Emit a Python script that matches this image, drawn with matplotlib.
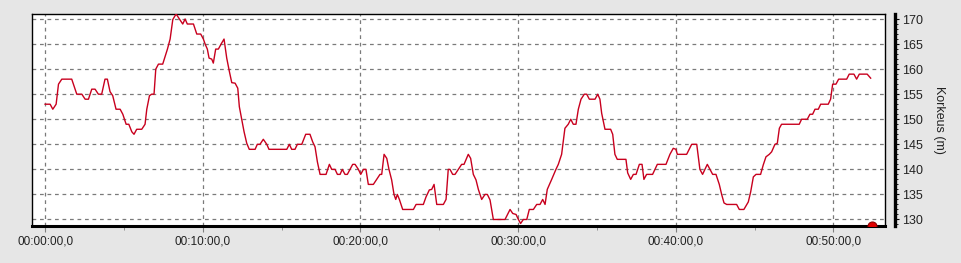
import matplotlib
matplotlib.use("Agg")
import matplotlib.pyplot as plt
from matplotlib.ticker import FuncFormatter, MultipleLocator, FixedLocator

plt.rcParams["font.family"] = ["Liberation Sans", "DejaVu Sans"]

# time in minutes, elevation in metres
time_min = [0.00, 0.32, 0.49, 0.70, 0.85, 1.06, 1.69, 1.90, 2.01, 2.33, 2.54, 2.75, 2.96, 3.17, 3.38, 3.59,
            3.80, 3.95, 4.12, 4.29, 4.50, 4.76, 4.93, 5.14, 5.31, 5.50, 5.64, 5.81, 6.13, 6.34, 6.45, 6.62,
            6.76, 6.91, 7.02, 7.19, 7.46, 7.61, 7.76, 7.93, 8.10, 8.31, 8.52, 8.73, 8.88, 9.02, 9.41, 9.62,
            9.87, 10.04, 10.15, 10.29, 10.40, 10.57, 10.67, 10.82, 10.99, 11.20, 11.35, 11.52, 11.69, 11.84,
            12.05, 12.22, 12.32, 12.47, 12.62, 12.79, 12.95, 13.32, 13.46, 13.63, 13.84, 14.06, 14.20, 15.33,
            15.49, 15.64, 15.85, 16.00, 16.28, 16.53, 16.80, 16.97, 17.12, 17.27, 17.44, 17.82, 18.03, 18.18,
            18.39, 18.54, 18.71, 18.85, 19.02, 19.17, 19.34, 19.51, 19.66, 19.87, 20.02, 20.19, 20.35, 20.50,
            20.82, 21.03, 21.24, 21.35, 21.50, 21.67, 21.81, 21.98, 22.13, 22.24, 22.34, 22.47, 22.68, 23.36,
            23.53, 23.99, 24.16, 24.37, 24.52, 24.67, 24.84, 25.26, 25.43, 25.57, 25.68, 25.85, 26.00, 26.21,
            26.42, 26.57, 26.84, 26.99, 27.16, 27.33, 27.48, 27.69, 27.90, 28.05, 28.22, 28.43, 29.17, 29.49,
            29.66, 29.87, 30.02, 30.16, 30.33, 30.55, 30.71, 30.97, 31.18, 31.39, 31.56, 31.71, 31.85, 32.13,
            32.40, 32.55, 32.76, 32.97, 33.18, 33.34, 33.50, 33.67, 33.82, 33.99, 34.20, 34.35, 34.52, 34.88,
            35.05, 35.19, 35.30, 35.51, 35.87, 36.00, 36.14, 36.29, 36.84, 36.95, 37.14, 37.31, 37.48, 37.69,
            37.86, 37.98, 38.15, 38.53, 38.83, 39.38, 39.63, 39.84, 40.01, 40.10, 40.69, 41.01, 41.33, 41.53,
            41.70, 41.85, 42.00, 42.17, 42.34, 42.55, 42.76, 42.91, 43.06, 43.23, 43.86, 44.03, 44.32, 44.60,
            44.75, 44.92, 45.09, 45.38, 45.55, 45.72, 45.93, 46.08, 46.29, 46.44, 46.57, 46.71, 47.83, 47.98,
            48.34, 48.51, 48.68, 48.83, 49.04, 49.19, 49.67, 49.82, 49.95, 50.16, 50.33, 50.84, 51.00, 51.30,
            51.47, 51.64, 52.14, 52.36]
elevation_m = [153, 153, 152, 153, 157, 158, 158, 156, 155, 155, 154, 154, 156, 156, 155, 155,
               158, 158, 155.5, 154.7, 152, 152, 151, 149, 149, 147.5, 147, 148, 148, 149, 152, 154.7,
               155, 155, 160, 161, 161, 162.5, 164, 166, 169.9, 171, 170, 169, 170, 169, 169, 167,
               167, 166, 165, 164, 162.2, 162, 161.2, 164, 164, 165.2, 166, 162.2, 159.5, 157.3,
               157.2, 156.2, 152.5, 150, 147.5, 145.2, 144, 144, 145, 145, 146, 145, 144, 144,
               145, 144, 144, 145, 145, 147, 147, 145.5, 144.5, 141.5, 139, 139, 141, 140,
               140, 139, 139, 140, 139, 139, 140, 141, 141, 140, 139, 140, 140, 137,
               137, 138, 139, 139, 143, 142.2, 140, 137.9, 135, 134, 135, 134, 132, 132,
               133, 133, 134.5, 135.9, 136, 137, 133, 133, 134, 140, 140, 139, 139, 140,
               141, 141, 143, 142.2, 139, 137.9, 136, 134, 135, 135, 133.9, 130, 130, 132,
               131.2, 131, 130, 129.2, 130, 130, 132, 132, 133, 133, 134, 133, 136, 138,
               140, 141, 143, 148.2, 149, 150, 149, 149, 152, 154, 155, 155, 154, 154,
               155, 154, 151.2, 148, 148, 147, 143, 142, 142, 139.3, 138, 139, 139, 141,
               141, 138, 139, 139, 141, 141, 143, 144.2, 144, 143, 143, 145, 145, 140,
               139, 140, 141, 140, 139, 139, 137, 135, 133.3, 133, 133, 132, 132, 133.5,
               135.5, 138.5, 139, 139, 140.9, 142.5, 143, 143.5, 145, 145.2, 148.2, 149, 149, 150,
               150, 151, 151, 152, 152, 153, 153, 154, 157, 157, 158, 158, 159, 159,
               158, 159, 159, 158.2]

marker_time = [52.42]
y_ticks = [130, 135, 140, 145, 150, 155, 160, 165, 170]
y_label = "Korkeus (m)"

W, H = 962, 263
fig = plt.figure(figsize=(W / 100, H / 100), dpi=100, facecolor="#e6e6e6")
left, right, top, bottom = 32, 885, 14, 226
ax = fig.add_axes([left / W, 1 - bottom / H, (right - left) / W, (bottom - top) / H])
ax.set_facecolor("white")

ax.plot(time_min, elevation_m, color="#c8001e", lw=1.0, zorder=3)

ymin, ymax = 128.7, 171.0
ax.set_xlim(-0.83, 53.27)
ax.set_ylim(ymin, ymax)

# marker at the bottom
ax.plot(marker_time, [ymin], marker="o", ms=6.5, color="#e00000", mec="#900000",
        mew=0.8, clip_on=True, zorder=4)

ax.xaxis.set_major_locator(MultipleLocator(10))
ax.xaxis.set_minor_locator(MultipleLocator(5))
ax.yaxis.set_major_locator(FixedLocator(y_ticks))


def fmt_time(v, pos):
    total = int(round(v * 60))
    h = total // 3600
    m = (total % 3600) // 60
    s = total % 60
    return f"{h:02d}:{m:02d}:{s:02d},0"


ax.xaxis.set_major_formatter(FuncFormatter(fmt_time))
ax.grid(True, which="major", color="#7a7a7a", linestyle=(0, (3, 3)), lw=0.9)
ax.tick_params(axis="x", which="major", length=4, color="#808080", labelsize=8.5,
               labelcolor="#222222", pad=3)
ax.tick_params(axis="x", which="minor", length=3, color="#808080")
ax.tick_params(axis="y", left=False, labelleft=False)

for sp in ["top", "left", "right"]:
    ax.spines[sp].set_linewidth(1.0)
    ax.spines[sp].set_color("black")
ax.spines["bottom"].set_linewidth(2.2)
ax.spines["bottom"].set_color("black")

sec = ax.secondary_yaxis(1 + 10 / (right - left))
sec.yaxis.set_major_locator(FixedLocator(y_ticks))
sec.yaxis.set_minor_locator(FixedLocator(list(range(129, 171))))
sec.spines["right"].set_linewidth(2.4)
sec.tick_params(axis="y", which="major", length=3, labelsize=9, labelcolor="#222222", pad=2)
sec.tick_params(axis="y", which="minor", length=2)
sec.set_ylabel(y_label, rotation=270, fontsize=9, color="#222222", labelpad=16)

fig.savefig("out.png", dpi=100, facecolor=fig.get_facecolor())
